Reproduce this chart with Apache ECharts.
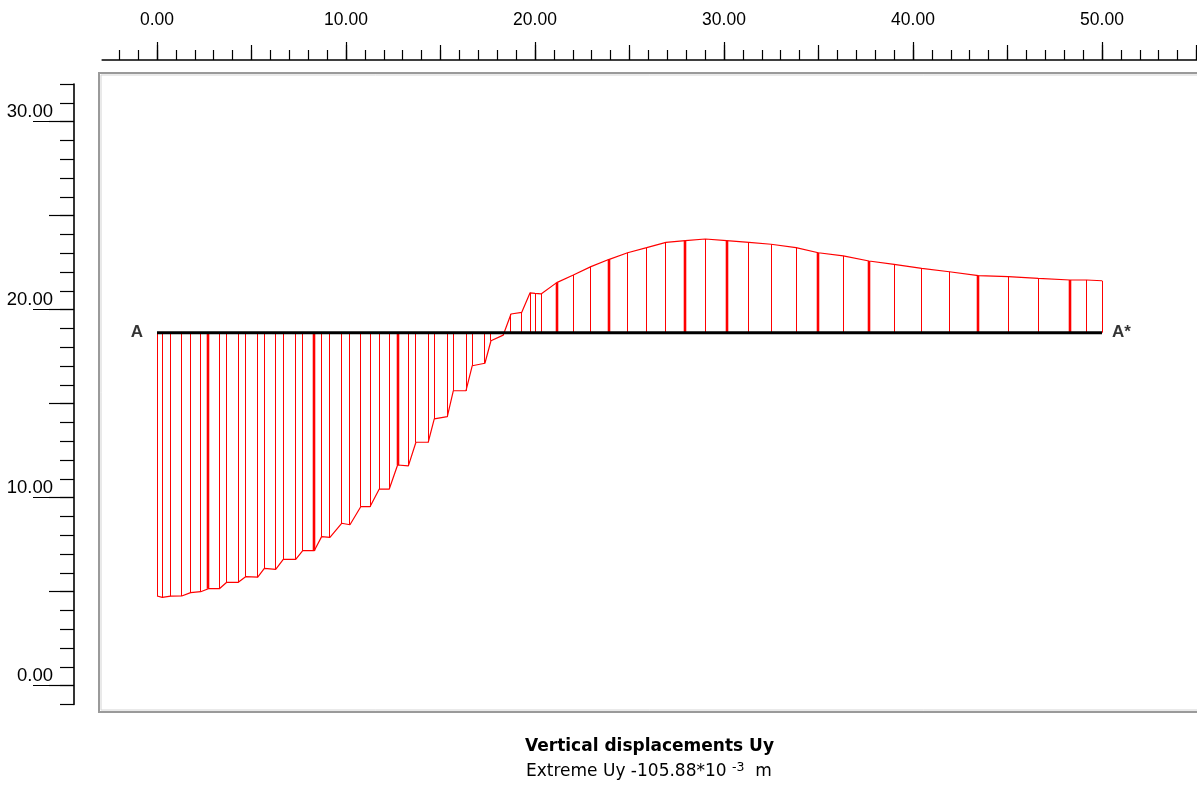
<!DOCTYPE html>
<html><head><meta charset="utf-8">
<script src="https://cdn.jsdelivr.net/npm/echarts@6/dist/echarts.min.js"></script>
<style>html,body{margin:0;padding:0;background:#fff}#c{width:1197px;height:785px}</style>
</head><body><div id="c"></div>
<script>
// ---- data ----
// node x positions along section A-A* (m)
const nodeX = [0.00,0.28,0.72,1.31,1.78,2.31,2.72,3.30,3.69,4.30,4.69,5.33,5.68,6.28,6.68,7.34,7.71,8.32,8.71,9.15,9.77,10.21,10.78,11.27,11.76,12.29,12.73,13.30,13.70,14.35,
  14.67,15.36,15.68,16.35,16.68,17.35,17.67,18.32,18.73,19.30,19.74,20.00,20.32,21.15,22.03,
  22.96,23.93,24.90,25.91,26.93,27.95,29.01,30.14,31.32,32.49,33.81,34.99,
  36.31,37.67,39.00,40.46,41.92,43.46,45.04,46.63,48.31,49.19,50.00];
// plotted (scaled) displacement curve level at each node
const nodeY = [4.77,4.70,4.76,4.77,4.95,5.00,5.16,5.16,5.50,5.50,5.80,5.77,6.24,6.19,6.72,6.72,7.18,7.18,7.93,7.89,8.64,8.56,9.52,9.52,10.46,10.46,11.74,11.69,12.95,12.95,
  14.19,14.31,15.69,15.69,17.02,17.15,18.35,18.65,19.77,19.86,20.90,20.87,20.84,21.44,21.85,
  22.29,22.68,23.03,23.30,23.58,23.67,23.76,23.67,23.58,23.48,23.30,23.03,
  22.86,22.59,22.41,22.20,22.02,21.81,21.76,21.67,21.58,21.58,21.54];
// nodes that appear doubled (drawn heavier)
const doubleNodeX = [2.72,8.32,12.73,21.15,23.93,27.95,30.14,34.99,37.67,43.46,48.31];
const sectionY = 18.78;
const sectionX = [0, 50];
const sectionLabels = ['A', 'A*'];
const topTickValues = [0, 10, 20, 30, 40, 50];
const leftTickValues = [0, 10, 20, 30];
const titleText = 'Vertical displacements Uy';
const extremeText = 'Extreme Uy -105.88*10';
const extremeExp = '-3';
const extremeUnit = 'm';

// ---- layout calibration (pixels per metre) ----
const X0 = 157, SX = 18.9, Y0 = 685.7, SY = 18.8;
const FR = {l: 99, t: 73, r: 1197, b: 712};

function gxs(a, b) { return {left: X0 + a * SX, width: (b - a) * SX, top: 60, height: 10}; }
function gys(a, b) { return {left: 74, width: 10, top: Y0 - b * SY, height: (b - a) * SY}; }

const fontAxis = 'Liberation Sans';
const grids = [
  {left: FR.l, top: FR.t, width: FR.r - FR.l, height: FR.b - FR.t, show: false},
  gxs(-2.9, 55.0),
  gxs(-2, 55),
  gxs(0, 55),
  gxs(topTickValues[0], topTickValues[topTickValues.length - 1]),
  gys(-1, 32),
  gys(0, 30),
  gys(leftTickValues[0], leftTickValues[leftTickValues.length - 1])
];

const hidden = (gi) => ({gridIndex: gi, type: 'value', show: false, min: 0, max: 1});
const base = {type: 'value', splitLine: {show: false}, axisLine: {show: false, onZero: false}, axisLabel: {show: false}, axisTick: {show: false}};
const tickStyle = {color: '#000', width: 1.2};

const xAxes = [
  {gridIndex: 0, type: 'value', show: false, min: (FR.l - X0) / SX, max: (FR.r - X0) / SX},
  Object.assign({}, base, {gridIndex: 1, position: 'top', min: -2.9, max: 55.0, axisLine: {show: true, onZero: false, lineStyle: {color: '#000', width: 1.6}}}),
  Object.assign({}, base, {gridIndex: 2, position: 'top', min: -2, max: 55, interval: 1, axisTick: {show: true, length: 10, lineStyle: tickStyle}}),
  Object.assign({}, base, {gridIndex: 3, position: 'top', min: 0, max: 55, interval: 5, axisTick: {show: true, length: 15, lineStyle: tickStyle}}),
  Object.assign({}, base, {gridIndex: 4, position: 'top', min: topTickValues[0], max: topTickValues[topTickValues.length - 1], interval: 10,
    axisTick: {show: true, length: 18, lineStyle: tickStyle},
    axisLabel: {show: true, margin: 31, formatter: v => v.toFixed(2), color: '#000', fontFamily: fontAxis, fontSize: 17.5}}),
  hidden(5), hidden(6), hidden(7)
];
const yAxes = [
  {gridIndex: 0, type: 'value', show: false, min: (Y0 - FR.b) / SY, max: (Y0 - FR.t) / SY},
  hidden(1), hidden(2), hidden(3), hidden(4),
  Object.assign({}, base, {gridIndex: 5, position: 'left', min: -1, max: 32, interval: 1,
    axisLine: {show: true, onZero: false, lineStyle: {color: '#000', width: 1.6}},
    axisTick: {show: true, length: 14, lineStyle: tickStyle}}),
  Object.assign({}, base, {gridIndex: 6, position: 'left', min: 0, max: 30, interval: 5, axisTick: {show: true, length: 25, lineStyle: tickStyle}}),
  Object.assign({}, base, {gridIndex: 7, position: 'left', min: leftTickValues[0], max: leftTickValues[leftTickValues.length - 1], interval: 10,
    axisTick: {show: true, length: 41, lineStyle: tickStyle},
    axisLabel: {show: true, margin: 21, formatter: v => v.toFixed(2), color: '#000', fontFamily: fontAxis, fontSize: 18.5, verticalAlign: 'bottom', padding: [0, 0, 0, 0]}})
];

const nodes = nodeX.map((x, i) => [x, nodeY[i], doubleNodeX.indexOf(x) >= 0 ? 1 : 0]);

const option = {
  animation: false,
  backgroundColor: '#fff',
  grid: grids,
  xAxis: xAxes,
  yAxis: yAxes,
  graphic: [
    {type: 'rect', z: 0, silent: true, shape: {x: FR.l, y: FR.t, width: FR.r - FR.l + 40, height: FR.b - FR.t},
     style: {fill: null, stroke: '#9a9a9a', lineWidth: 2}},
    {type: 'rect', z: 0, silent: true, shape: {x: FR.l + 2, y: FR.t + 2, width: FR.r - FR.l + 40, height: FR.b - FR.t - 4},
     style: {fill: null, stroke: '#d4d4d4', lineWidth: 1}}
  ],
  title: [
    {text: titleText, left: 525, top: 738, padding: 0,
     textStyle: {fontFamily: 'DejaVu Sans', fontWeight: 'bold', fontSize: 17, color: '#000'}},
    {text: '{a|' + extremeText + ' }{s|' + extremeExp + '}{a|  ' + extremeUnit + '}', left: 526, top: 761, padding: 0,
     textStyle: {fontWeight: 'normal', rich: {
       a: {fontFamily: 'DejaVu Sans', fontWeight: 'normal', fontSize: 17, color: '#000'},
       s: {fontFamily: 'DejaVu Sans', fontWeight: 'normal', fontSize: 12.5, color: '#000', padding: [0, 0, 9, 0]}
     }}}
  ],
  series: [
    {type: 'custom', xAxisIndex: 0, yAxisIndex: 0, data: nodes, z: 2, clip: false,
     renderItem: function (params, api) {
       const p0 = api.coord([api.value(0), sectionY]);
       const p1 = api.coord([api.value(0), api.value(1)]);
       const thick = api.value(2);
       const px = thick ? Math.round(p0[0]) : Math.round(p0[0] - 0.5) + 0.5;
       return {type: 'line', shape: {x1: px, y1: p0[1], x2: px, y2: p1[1]},
               style: {stroke: '#ff0000', lineWidth: thick ? 2.6 : 1}};
     }},
    {type: 'line', xAxisIndex: 0, yAxisIndex: 0, data: nodes.map(n => [n[0], n[1]]), symbol: 'none', z: 3,
     lineStyle: {color: '#ff0000', width: 1.2}},
    {type: 'line', xAxisIndex: 0, yAxisIndex: 0, data: sectionX.map(x => [x, sectionY]), symbol: 'none', z: 4,
     lineStyle: {color: '#000', width: 3}},
    {type: 'scatter', xAxisIndex: 0, yAxisIndex: 0, symbolSize: 0, z: 5,
     data: [
       {value: [sectionX[0], sectionY], label: {show: true, position: 'left', distance: 14, formatter: sectionLabels[0]}},
       {value: [sectionX[1], sectionY], label: {show: true, position: 'right', distance: 10, formatter: sectionLabels[1]}}
     ],
     label: {color: '#000', fontFamily: 'Liberation Sans', fontWeight: 'bold', fontSize: 17}}
  ]
};
const chart = echarts.init(document.getElementById('c'));
chart.setOption(option);
</script></body></html>
